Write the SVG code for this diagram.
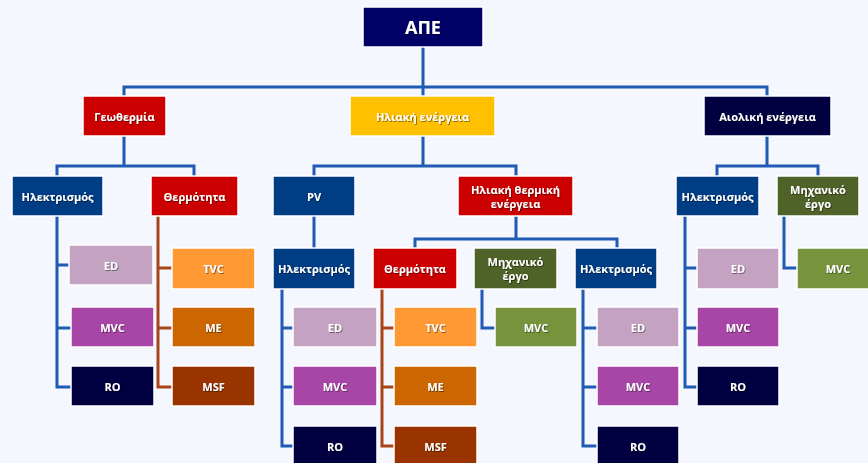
<svg xmlns="http://www.w3.org/2000/svg" width="868" height="463" viewBox="0 0 868 463">
<defs>
<filter id="ts" x="-20%" y="-40%" width="140%" height="180%">
<feDropShadow dx="0.8" dy="0.8" stdDeviation="0.5" flood-color="#000" flood-opacity="0.55"/>
</filter>
<style>
.b{stroke:#fff;stroke-width:1.5}
.t{font-family:"Open Sans","DejaVu Sans",sans-serif;font-weight:bold;font-size:11px;fill:#fff;text-anchor:middle;dominant-baseline:central;filter:url(#ts)}
.big{font-size:18px}
.cb{fill:none;stroke:#1F5BB3;stroke-width:3}
.cr{fill:none;stroke:#A8441A;stroke-width:3}
.navy{fill:#000066}.dk{fill:#000040}.red{fill:#CC0000}.yel{fill:#FFC000}.blue{fill:#003D85}
.olv{fill:#4F6228}.grn{fill:#77933C}.ed{fill:#C4A2C2}.mvc{fill:#A846A8}
.tvc{fill:#FF9933}.me{fill:#CC6600}.msf{fill:#993300}
</style>
</defs>
<rect width="868" height="463" fill="#F5F7FF"/>
<g id="connectors">
<path class="cb" d="M423,47V96M124,96V87H767V96"/>
<path class="cb" d="M124,136V166M57,176V166H194V176"/>
<path class="cb" d="M423,136V166M314,176V166H516V176"/>
<path class="cb" d="M767,136V166M717,176V166H818V176"/>
<path class="cb" d="M57,216V387H71M57,265H69M57,328H71"/>
<path class="cr" d="M158,216V387H172M158,268H172M158,328H172"/>
<path class="cb" d="M314,216V248"/>
<path class="cb" d="M282,289V446H293M282,328H293M282,387H293"/>
<path class="cb" d="M516,216V239M415,248V239H617V248"/>
<path class="cr" d="M382,289V446H394M382,328H394M382,387H394"/>
<path class="cb" d="M482,289V328H495"/>
<path class="cb" d="M583,289V446H597M583,328H597M583,387H597"/>
<path class="cb" d="M685,216V387H697M685,268H697M685,328H697"/>
<path class="cb" d="M784,216V268H797"/>
</g>
<g id="root"><rect class="b navy" x="363" y="7" width="120" height="40"/><text class="t big" x="423" y="27">ΑΠΕ</text></g>
<g id="geo"><rect class="b red" x="83" y="96" width="83" height="40"/><text class="t" x="124.5" y="116">Γεωθερμία</text></g>
<g id="solar"><rect class="b yel" x="350" y="96" width="145" height="40"/><text class="t" x="422.5" y="116">Ηλιακή ενέργεια</text></g>
<g id="wind"><rect class="b dk" x="704" y="96" width="127" height="40"/><text class="t" x="767.5" y="116">Αιολική ενέργεια</text></g>
<g id="geo_el"><rect class="b blue" x="12" y="176" width="91" height="40"/><text class="t" x="57.5" y="196">Ηλεκτρισμός</text></g>
<g id="geo_th"><rect class="b red" x="151" y="176" width="87" height="40"/><text class="t" x="194.5" y="196">Θερμότητα</text></g>
<g id="pv"><rect class="b blue" x="273" y="176" width="82" height="40"/><text class="t" x="314" y="196">PV</text></g>
<g id="sth"><rect class="b red" x="458" y="176" width="115" height="40"/><text class="t" x="515.5" y="189">Ηλιακή θερμική</text><text class="t" x="515.5" y="203">ενέργεια</text></g>
<g id="wind_el"><rect class="b blue" x="676" y="176" width="83" height="40"/><text class="t" x="717.5" y="196">Ηλεκτρισμός</text></g>
<g id="wind_mech"><rect class="b olv" x="777" y="176" width="82" height="40"/><text class="t" x="818" y="189">Μηχανικό</text><text class="t" x="818" y="203">έργο</text></g>
<g id="geo_el_ed"><rect class="b ed" x="69" y="245" width="84" height="40"/><text class="t" x="111" y="265">ED</text></g>
<g id="geo_el_mvc"><rect class="b mvc" x="71" y="307" width="83" height="40"/><text class="t" x="112.5" y="327">MVC</text></g>
<g id="geo_el_ro"><rect class="b dk" x="71" y="366" width="83" height="40"/><text class="t" x="112.5" y="386">RO</text></g>
<g id="geo_th_tvc"><rect class="b tvc" x="172" y="248" width="83" height="41"/><text class="t" x="213.5" y="268">TVC</text></g>
<g id="geo_th_me"><rect class="b me" x="172" y="307" width="83" height="40"/><text class="t" x="213.5" y="327">ME</text></g>
<g id="geo_th_msf"><rect class="b msf" x="172" y="366" width="83" height="40"/><text class="t" x="213.5" y="386">MSF</text></g>
<g id="pv_el"><rect class="b blue" x="273" y="248" width="82" height="41"/><text class="t" x="314" y="268">Ηλεκτρισμός</text></g>
<g id="pv_el_ed"><rect class="b ed" x="293" y="307" width="84" height="40"/><text class="t" x="335" y="327">ED</text></g>
<g id="pv_el_mvc"><rect class="b mvc" x="293" y="366" width="84" height="40"/><text class="t" x="335" y="386">MVC</text></g>
<g id="pv_el_ro"><rect class="b dk" x="293" y="426" width="84" height="40"/><text class="t" x="335" y="446">RO</text></g>
<g id="sth_th"><rect class="b red" x="373" y="248" width="84" height="41"/><text class="t" x="415" y="268">Θερμότητα</text></g>
<g id="sth_mech"><rect class="b olv" x="474" y="248" width="83" height="41"/><text class="t" x="515.5" y="261">Μηχανικό</text><text class="t" x="515.5" y="275">έργο</text></g>
<g id="sth_el"><rect class="b blue" x="575" y="248" width="82" height="41"/><text class="t" x="616" y="268">Ηλεκτρισμός</text></g>
<g id="sth_th_tvc"><rect class="b tvc" x="394" y="307" width="83" height="40"/><text class="t" x="435.5" y="327">TVC</text></g>
<g id="sth_th_me"><rect class="b me" x="394" y="366" width="83" height="40"/><text class="t" x="435.5" y="386">ME</text></g>
<g id="sth_th_msf"><rect class="b msf" x="394" y="426" width="83" height="40"/><text class="t" x="435.5" y="446">MSF</text></g>
<g id="sth_mech_mvc"><rect class="b grn" x="495" y="307" width="82" height="40"/><text class="t" x="536" y="327">MVC</text></g>
<g id="sth_el_ed"><rect class="b ed" x="597" y="307" width="82" height="40"/><text class="t" x="638" y="327">ED</text></g>
<g id="sth_el_mvc"><rect class="b mvc" x="597" y="366" width="82" height="40"/><text class="t" x="638" y="386">MVC</text></g>
<g id="sth_el_ro"><rect class="b dk" x="597" y="426" width="82" height="40"/><text class="t" x="638" y="446">RO</text></g>
<g id="wind_el_ed"><rect class="b ed" x="697" y="248" width="82" height="41"/><text class="t" x="738" y="268">ED</text></g>
<g id="wind_el_mvc"><rect class="b mvc" x="697" y="307" width="82" height="40"/><text class="t" x="738" y="327">MVC</text></g>
<g id="wind_el_ro"><rect class="b dk" x="697" y="366" width="82" height="40"/><text class="t" x="738" y="386">RO</text></g>
<g id="wind_mech_mvc"><rect class="b grn" x="797" y="248" width="82" height="41"/><text class="t" x="838" y="268">MVC</text></g>
</svg>
